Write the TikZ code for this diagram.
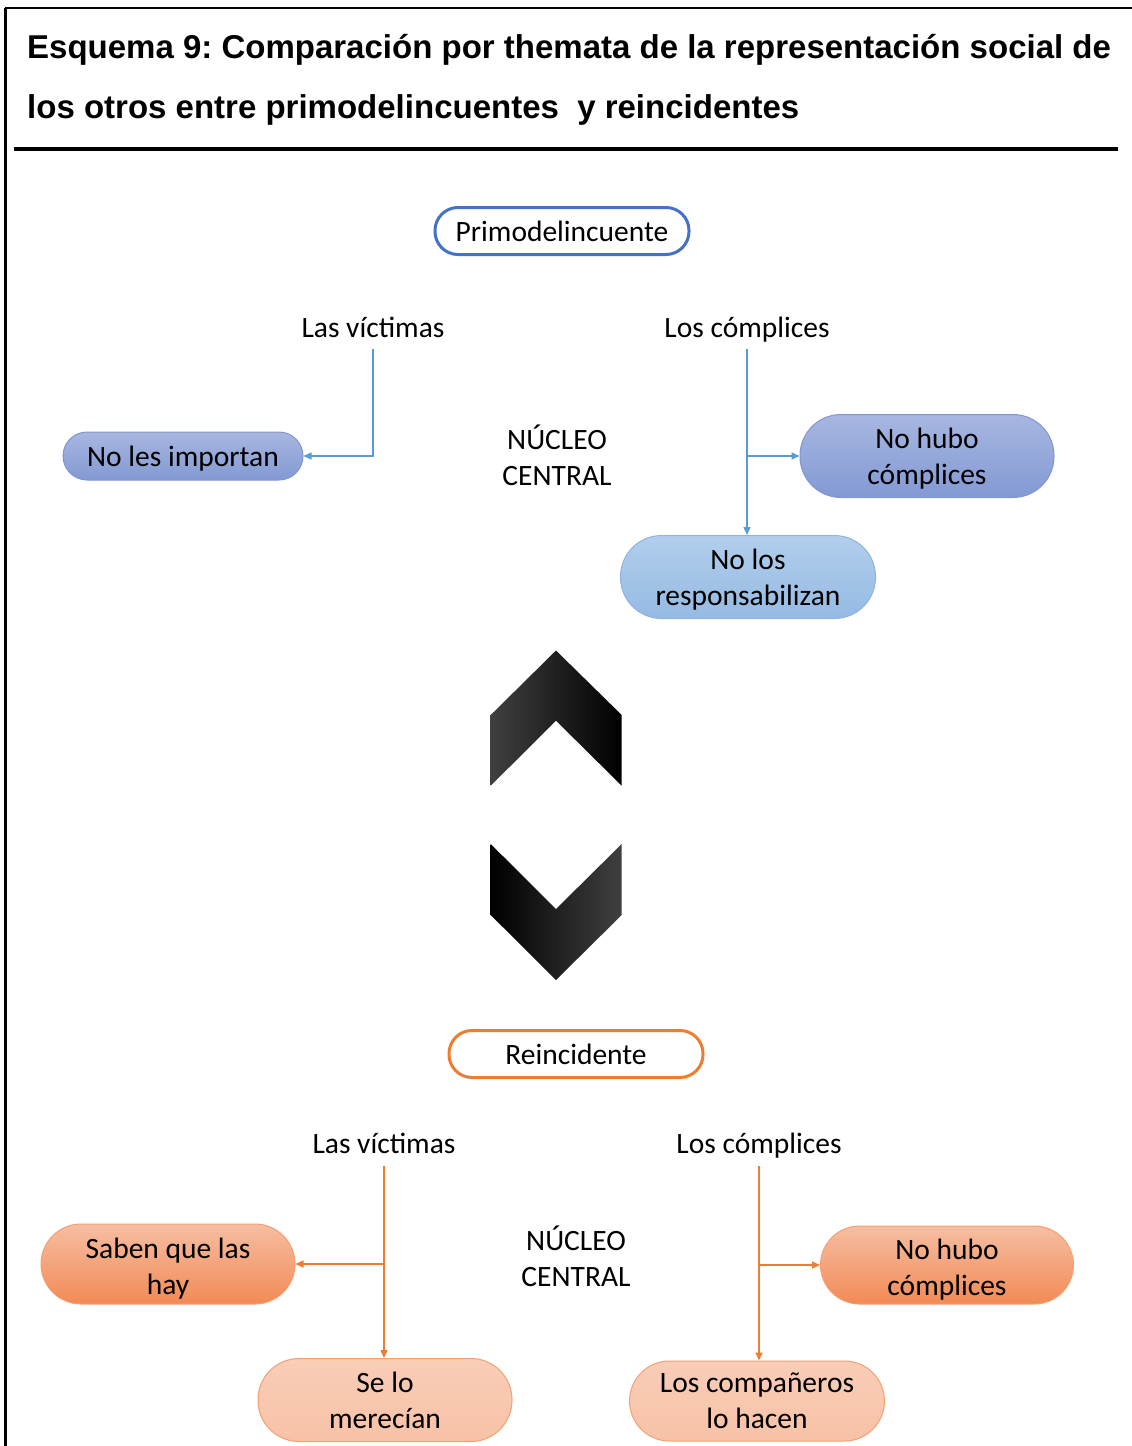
\documentclass[tikz,border=0pt]{standalone}
\usepackage{fontspec}
\setmainfont{Carlito}
\newfontfamily\titlefont{Liberation Sans}
\usetikzlibrary{arrows.meta}

\definecolor{frameblue}{HTML}{4472C4}
\definecolor{frameorange}{HTML}{ED7D31}
\definecolor{lineblue}{HTML}{5B9BD5}
\definecolor{lineorange}{HTML}{ED7D31}
\definecolor{purpletop}{HTML}{A8B7E1}
\definecolor{purplebot}{HTML}{8299D2}
\definecolor{purpleedge}{HTML}{7F96D1}
\definecolor{skytop}{HTML}{B2CEEC}
\definecolor{skybot}{HTML}{95BAE3}
\definecolor{skyedge}{HTML}{8FB4E0}
\definecolor{peachtop}{HTML}{F6BEA2}
\definecolor{peachbot}{HTML}{F28A55}
\definecolor{paletop}{HTML}{F9CDB7}
\definecolor{palebot}{HTML}{F7C2A7}
\definecolor{peachedge}{HTML}{F3A073}

% text lowered inside its node while the node keeps its own box
\newcommand\lowtext[2]{\raisebox{-#1}[\height][\depth]{\begin{tabular}{@{}c@{}}#2\end{tabular}}}

\tikzset{
  body/.style={font=\fontsize{29.5}{36}\selectfont, align=center, inner sep=0pt},
  pillblue/.style={body, draw=purpleedge, line width=1pt, top color=purpletop, bottom color=purplebot},
  pillsky/.style={body, draw=skyedge, line width=1pt, top color=skytop, bottom color=skybot},
  pillpeach/.style={body, draw=peachedge, line width=1pt, top color=peachtop, bottom color=peachbot},
  pillpale/.style={body, draw=peachedge, line width=1pt, top color=paletop, bottom color=palebot},
  headbox/.style={body, fill=white, line width=3pt, rounded corners=23pt,
    minimum width=254pt, minimum height=47pt},
  branchlabel/.style={body, text height=22pt, text depth=7pt},
  titleline/.style={anchor=base west, inner sep=0pt, font=\titlefont\bfseries\fontsize{33}{36}\selectfont},
  conn/.style={line width=1.5pt, -{Triangle[length=8pt,width=7pt]}},
}

\begin{document}
\frenchspacing
\begin{tikzpicture}[x=1pt,y=-1pt]
\useasboundingbox (0,0) rectangle (1132,1446);

% outer frame and title rule
\draw[line width=2pt] (5,8) -- (1132,8);
\draw[line width=3pt] (5,8) -- (5,1446);
\draw[line width=4pt] (14,149) -- (1118,149);

\node[titleline] (title1) at (27,58)
  {Esquema 9: Comparación por themata de la representación social de};
\node[titleline] (title2) at (27,118)
  {los otros entre primodelincuentes\ \ y reincidentes};

% ---------- upper group ----------
\node[headbox, draw=frameblue] (primo) at (562,231) {Primodelincuente};

\node[branchlabel] (lv1) at (373,329.5) {Las víctimas};
\node[branchlabel] (lc1) at (747,329.5) {Los cómplices};
\node[body] (nc1) at (557,455.5) {NÚCLEO\\CENTRAL};

\node[pillblue, rounded corners=24pt, minimum width=240pt, minimum height=48pt] (nli) at (183,456)
  {\lowtext{3pt}{No les importan}};
\node[pillblue, rounded corners=41pt, minimum width=254pt, minimum height=83pt] (nh1) at (927,456)
  {\lowtext{3pt}{No hubo\\cómplices}};
\node[pillsky, rounded corners=41pt, minimum width=255pt, minimum height=83pt] (nr1) at (748,577)
  {\lowtext{3pt}{No los\\responsabilizan}};

\draw[conn, lineblue] (lv1.south) ++(0,5) |- (nli.east);
\draw[conn, lineblue] (lc1.south) ++(0,5) -- (lc1.south |- nr1.north);
\draw[conn, lineblue] (lc1.south |- nh1.west) -- (nh1.west);

% ---------- double chevron ----------
\shade[left color=black!75, middle color=black, right color=black]
  (490.7,715) -- (556,650.5) -- (621.7,715) -- (621.7,785.7) -- (556,720.7) -- (490.7,785.7) -- cycle;
\shade[left color=black, middle color=black, right color=black!75]
  (490.7,844) -- (556,909) -- (621.7,844) -- (621.7,915) -- (556,980) -- (490.7,915) -- cycle;

% ---------- lower group ----------
\node[headbox, draw=frameorange] (rein) at (576,1054) {\lowtext{3pt}{Reincidente}};

\node[branchlabel] (lv2) at (384,1145.5) {Las víctimas};
\node[branchlabel] (lc2) at (759,1145.5) {Los cómplices};
\node[body] (nc2) at (576,1256.5) {NÚCLEO\\CENTRAL};

\node[pillpeach, rounded corners=40pt, minimum width=254pt, minimum height=80pt] (sq) at (168,1264)
  {\lowtext{5pt}{Saben que las\\hay}};
\node[pillpale, rounded corners=41pt, minimum width=254pt, minimum height=83pt] (sl) at (385,1400)
  {\lowtext{3pt}{Se lo\\merecían}};
\node[pillpeach, rounded corners=39pt, minimum width=253pt, minimum height=78pt] (nh2) at (947,1265)
  {\lowtext{5pt}{No hubo\\cómplices}};
\node[pillpale, rounded corners=40pt, minimum width=255pt, minimum height=80pt] (lch) at (757,1401)
  {\lowtext{2pt}{Los compañeros\\lo hacen}};

\draw[conn, lineorange] (lv2.south) ++(0,6) -- (lv2.south |- sl.north);
\draw[conn, lineorange] (lv2.south |- sq.east) -- (sq.east);
\draw[conn, lineorange] (lc2.south) ++(0,6) -- (lc2.south |- lch.north);
\draw[conn, lineorange] (lc2.south |- nh2.west) -- (nh2.west);
\end{tikzpicture}
\end{document}
